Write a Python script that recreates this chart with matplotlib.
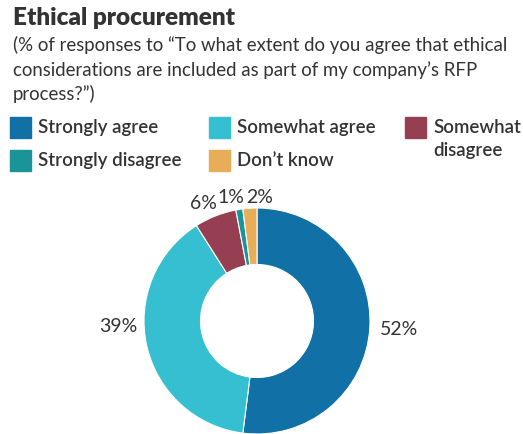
import matplotlib.pyplot as plt
from matplotlib.patches import Rectangle

# Survey answers, clockwise from 12 o'clock
categories = ["Strongly agree", "Somewhat agree", "Somewhat disagree",
              "Strongly disagree", "Don't know"]
shares = [52, 39, 6, 1, 2]
colors = ["#1170a6", "#35bfd0", "#963f52", "#1a9399", "#e8ad57"]
value_labels = ["52%", "39%", "6%", "1%", "2%"]

plt.rcParams["font.family"] = ["Lato", "DejaVu Sans"]
text_color = "#333333"

W, H = 523, 435
fig = plt.figure(figsize=(W / 100, H / 100), dpi=100)

# Donut chart in its own axes (pixel-based placement)
cx, cy, r = 257, 322, 113
pax = fig.add_axes([(cx - r) / W, (H - cy - r) / H, 2 * r / W, 2 * r / H])
pax.pie(shares, colors=colors, startangle=90, counterclock=False,
        wedgeprops=dict(width=0.5, edgecolor="white", linewidth=0.8))
pax.set_xlim(-1, 1)
pax.set_ylim(-1, 1)
pax.set_aspect("equal")

# Overlay axes in pixel coordinates for all the text
ax = fig.add_axes([0, 0, 1, 1])
ax.set_xlim(0, W)
ax.set_ylim(H, 0)
ax.axis("off")
ax.set_zorder(2)

# Title block
ax.text(13, 18, "Ethical procurement", fontsize=17.5, fontweight="heavy",
        color=text_color, va="center", ha="left")
subtitle = ("(% of responses to \u201cTo what extent do you agree that ethical\n"
            "considerations are included as part of my company\u2019s RFP\n"
            "process?\u201d)")
ax.text(13, 36, subtitle, fontsize=13.4, color=text_color, va="top", ha="left",
        linespacing=1.45)

# Legend: swatch + label in a 3-column grid
legend_pos = [(10, 118), (209, 118), (405, 118), (10, 151), (209, 151)]
legend_text = ["Strongly agree", "Somewhat agree", "Somewhat\ndisagree",
               "Strongly disagree", "Don\u2019t know"]
for (x, y), c, t in zip(legend_pos, colors, legend_text):
    ax.add_patch(Rectangle((x, y), 21, 21, color=c))
    ax.text(x + 28, y + 1, t, fontsize=13.4, fontweight="semibold",
            color=text_color, va="top", ha="left", linespacing=1.4)

label_pos = [(399, 330), (118, 327), (203, 204), (231, 198), (260, 198)]
for (x, y), t in zip(label_pos, value_labels):
    ax.text(x, y, t, fontsize=14, color=text_color, va="center", ha="center")

fig.savefig("out.png", dpi=100)
